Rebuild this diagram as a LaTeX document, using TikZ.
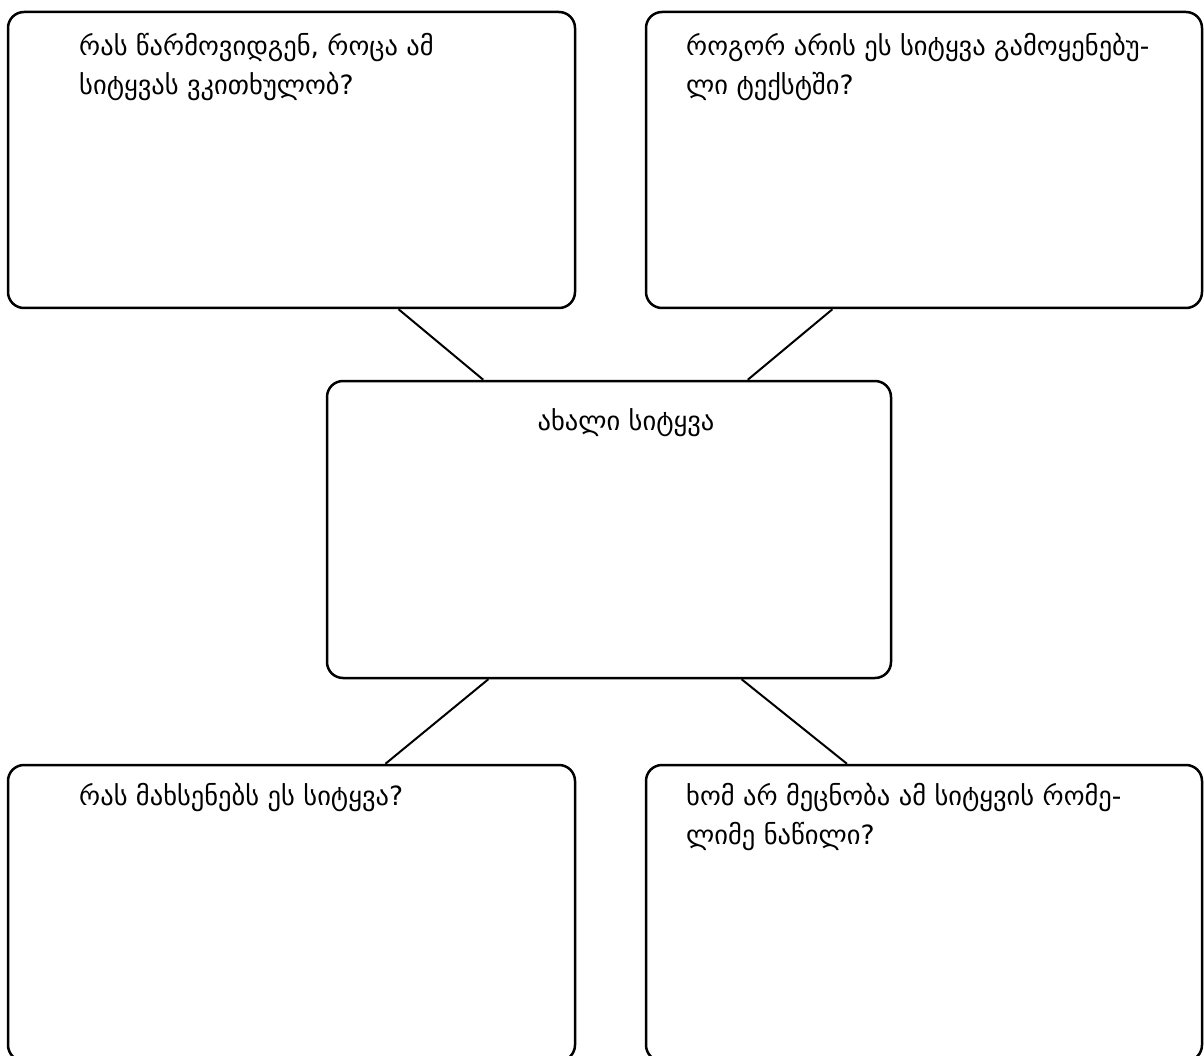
\documentclass[tikz,border=0pt]{standalone}
\usepackage{fontspec}
\newfontfamily\geofont{DejaVu Sans}
\usetikzlibrary{calc}

\begin{document}
\begin{tikzpicture}[x=1pt,y=-1pt,
        card/.style={draw, line width=2.5pt, rounded corners=16pt, inner sep=0pt},
        note/.style={anchor=north west, align=left, inner sep=0pt, font=\geofont\fontsize{26.5}{39}\selectfont},
        tie/.style={line width=2pt}]
        \useasboundingbox (0,0) rectangle (1204,1056);
        \clip (0,0) rectangle (1204,1056);
        % boxes
        \node[card, minimum width=567pt, minimum height=296pt] (imagine) at (291.5,160) {};
        \node[card, minimum width=556pt, minimum height=296pt] (usage) at (924,160) {};
        \node[card, minimum width=564pt, minimum height=297pt] (word) at (609,529.5) {};
        \node[card, minimum width=567pt, minimum height=296pt] (remind) at (291.5,913) {};
        \node[card, minimum width=556pt, minimum height=296pt] (parts) at (924,913) {};
        % texts
        \node[note] (imaginetext) at (79,28) {\strut რას წარმოვიდგენ, როცა ამ\\სიტყვას ვკითხულობ?};
        \node[note] (usagetext) at (686,28) {\strut როგორ არის ეს სიტყვა გამოყენებუ-\\ლი ტექსტში?};
        \node[note, anchor=base] (wordtext) at (626,430) {ახალი სიტყვა};
        \node[note] (remindtext) at (79,778) {\strut რას მახსენებს ეს სიტყვა?};
        \node[note] (partstext) at (686,778) {\strut ხომ არ მეცნობა ამ სიტყვის რომე-\\ლიმე ნაწილი?};
        % links
        \draw[tie] ($(imagine.south west)!0.688!(imagine.south east)$) -- ($(word.north west)!0.278!(word.north east)$);
        \draw[tie] ($(usage.south west)!0.336!(usage.south east)$) -- ($(word.north west)!0.745!(word.north east)$);
        \draw[tie] ($(word.south west)!0.287!(word.south east)$) -- ($(remind.north west)!0.665!(remind.north east)$);
        \draw[tie] ($(word.south west)!0.734!(word.south east)$) -- ($(parts.north west)!0.362!(parts.north east)$);
\end{tikzpicture}
\end{document}
